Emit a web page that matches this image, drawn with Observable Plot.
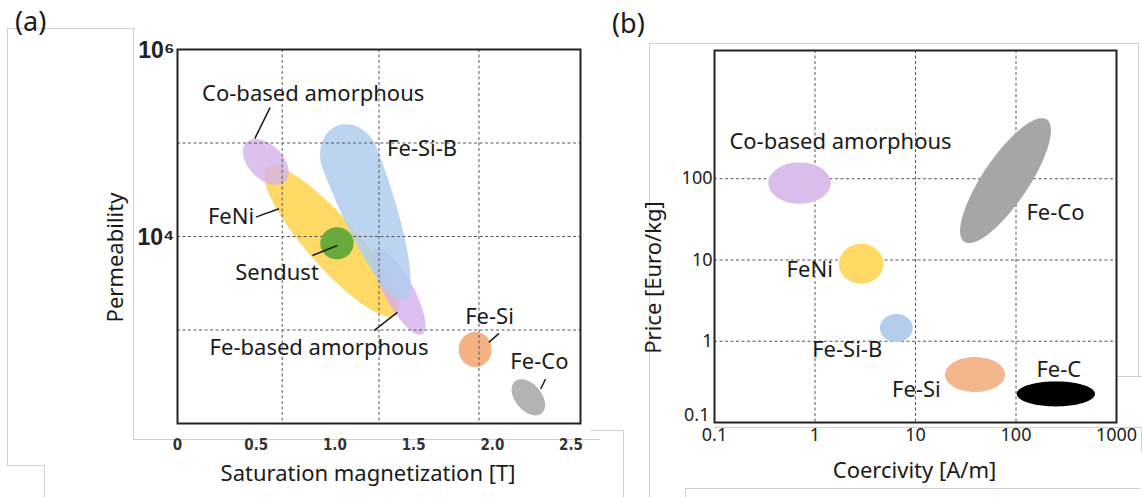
<!DOCTYPE html>
<html><head><meta charset="utf-8">
<script src="https://cdn.jsdelivr.net/npm/d3@7"></script>
<script src="https://cdn.jsdelivr.net/npm/@observablehq/plot@0.6"></script>
<style>
body{margin:0;background:#fff;}
#root{position:relative;width:1142px;height:497px;overflow:hidden;background:#fff;font-family:"Noto Sans",sans-serif;}
.panel{position:absolute;top:0;}
.deco{position:absolute;background:#d0d0d0;}
.tag{position:absolute;font-size:27px;color:#1a1a1a;line-height:1;font-family:"Noto Sans",sans-serif;}
</style></head><body><div id="root"></div>
<script>
// ---------- Panel (a): permeability vs saturation magnetization ----------
const aNames  = ["FeNi", "Co-based amorphous", "Fe-based amorphous", "Fe-Si-B", "Fe-Si", "Fe-Co", "Sendust"];
const aX1     = [0.570, 0.440, 1.265, 1.018, 1.894, 2.147, 0.910];
const aY1     = [5.35e4, 1.0e5, 7255, 1.51e5, 942, 279, 8354];
const aX2     = [1.392, 0.688, 1.557, 1.443, 1.894, 2.317, 1.122];
const aY2     = [1425, 3.84e4, 891, 2063, 397, 127, 8354];
const aWidth  = [0.255, 0.62, 0.30, 0.31, 0.94, 0.63, 0.96];
const aSplit  = [0.5, 0.5, 0.5, 0.19, 0.5, 0.5, 0.5];

const aLabelText = ["Co-based amorphous", "Fe-Si-B", "FeNi", "Sendust", "Fe-based amorphous", "Fe-Si", "Fe-Co"];
const aLabelX    = [0.862, 1.554, 0.340, 0.632, 0.899, 1.982, 2.299];
const aLabelY    = [3.32e5, 8.7e4, 1.61e4, 4045, 636, 1367, 450];

const aLeadX1 = [0.588, 0.497, 0.857, 1.248, 1.978, 2.307];
const aLeadY1 = [2.39e5, 1.61e4, 6260, 984, 737, 234];
const aLeadX2 = [0.491, 0.645, 1.016, 1.397, 2.042, 2.338];
const aLeadY2 = [1.113e5, 1.98e4, 8010, 1545, 920, 299];

const aXTicks = [0, 0.5, 1.0, 1.5, 2.0, 2.5];
const aXTickLabels = ["0", "0.5", "1.0", "1.5", "2.0", "2.5"];
const aYTicks = [1e4, 1e6];
const aYTickLabels = ["10\u2074", "10\u2076"];
const aGridX = [0.665, 1.28, 1.915];
const aGridY = [1e3, 1e4, 1e5];

// ---------- Panel (b): price vs coercivity ----------
const bNames  = ["Co-based amorphous", "Fe-Co", "FeNi", "Fe-Si-B", "Fe-Si", "Fe-C"];
const bX1     = [0.347, 30.9, 1.753, 4.485, 19.9, 102.8];
const bY1     = [87.1, 16.5, 8.85, 1.432, 0.384, 0.2216];
const bX2     = [1.45, 204.8, 4.85, 9.49, 78.6, 618];
const bY2     = [87.1, 528.7, 8.85, 1.432, 0.384, 0.2216];
const bWidth  = [0.663, 0.31, 0.90, 0.86, 0.583, 0.319];

const bLabelText = ["Co-based amorphous", "Fe-Co", "FeNi", "Fe-Si-B", "Fe-Si", "Fe-C"];
const bLabelX    = [1.794, 247, 0.886, 2.091, 10.19, 266.7];
const bLabelY    = [282.8, 38.3, 7.47, 0.775, 0.2546, 0.44];

const bXTicks = [0.1, 1, 10, 100, 1000];
const bXTickLabels = ["0.1", "1", "10", "100", "1000"];
const bYTicks = [1, 10, 100];
const bYTickLabels = ["1", "10", "100"];
const bYBottomTick = [0.1];
const bYBottomLabel = ["0.1"];
const bGrid = [1, 10, 100];

// ---------- styles ----------
const aFill = {"FeNi": "#ffd966", "Co-based amorphous": "#d3b1ea", "Fe-based amorphous": "#d3aef0",
  "Fe-Si-B": "#afcdec", "Fe-Si": "#f4b183", "Fe-Co": "#b3b3b3", "Sendust": "#6aa93c"};
const aAlpha = {"FeNi": 1, "Co-based amorphous": 0.8, "Fe-based amorphous": 0.8, "Fe-Si-B": 0.85,
  "Fe-Si": 1, "Fe-Co": 1, "Sendust": 1};
const bFill = {"Co-based amorphous": "#d9bdea", "Fe-Co": "#a6a6a6", "FeNi": "#ffd966",
  "Fe-Si-B": "#b3cdea", "Fe-Si": "#f4b68c", "Fe-C": "#000000"};

const labelFont = "'Noto Sans', 'Open Sans', sans-serif";
const ink = "#1a1a1a";

function rows(names, x1, y1, x2, y2, w, split, fill, alpha) {
  return names.map((n, i) => ({name: n, x1: x1[i], y1: y1[i], x2: x2[i], y2: y2[i],
    w: w[i], split: split ? split[i] : 0.5, fill: fill[n], alpha: alpha ? alpha[n] : 1}));
}

// custom mark: filled ovals positioned and sized through the plot's x/y scales
function regions(data) {
  return function (...args) {
    const scales = args.find(a => a && typeof a.x === "function" && typeof a.y === "function");
    const ns = "http://www.w3.org/2000/svg";
    const g = document.createElementNS(ns, "g");
    g.setAttribute("aria-label", "regions");
    for (const r of data) {
      const X1 = scales.x(r.x1), Y1 = scales.y(r.y1), X2 = scales.x(r.x2), Y2 = scales.y(r.y2);
      const L = Math.hypot(X1 - X2, Y1 - Y2);
      const ux = (X1 - X2) / L, uy = (Y1 - Y2) / L, vx = -uy, vy = ux;
      const b = r.w * L / 2, a1 = L * r.split, a2 = L * (1 - r.split);
      const cx = X1 - ux * a1, cy = Y1 - uy * a1;
      const pts = [];
      for (let i = 0; i < 120; i++) {
        const t = i / 120 * 2 * Math.PI, c = Math.cos(t), s = Math.sin(t);
        const a = c >= 0 ? a1 : a2;
        pts.push([cx + ux * a * c + vx * b * s, cy + uy * a * c + vy * b * s]);
      }
      const p = document.createElementNS(ns, "path");
      p.setAttribute("d", d3.line().curve(d3.curveCardinalClosed.tension(0.5))(pts));
      p.setAttribute("fill", r.fill);
      p.setAttribute("fill-opacity", r.alpha);
      g.appendChild(p);
    }
    return g;
  };
}

const gridStyle = {stroke: "#555", strokeWidth: 1, strokeDasharray: "3,2.5"};
const textOpts = {fontFamily: labelFont, fontSize: 22, fill: ink};

const aRows = rows(aNames, aX1, aY1, aX2, aY2, aWidth, aSplit, aFill, aAlpha);
const aBack = aRows.filter(r => r.name !== "Sendust");
const aFront = aRows.filter(r => r.name === "Sendust");
const aLeads = aLeadX1.map((v, i) => ({x1: v, y1: aLeadY1[i], x2: aLeadX2[i], y2: aLeadY2[i]}));

const plotA = Plot.plot({
  width: 600, height: 497,
  marginLeft: 177, marginRight: 20, marginTop: 49, marginBottom: 74,
  style: {background: "transparent", overflow: "visible", fontFamily: labelFont},
  x: {type: "linear", domain: [0, 2.56], axis: null},
  y: {type: "log", domain: [1e2, 1e6], axis: null},
  marks: [
    regions(aBack),
    Plot.ruleX(aGridX, gridStyle),
    Plot.ruleY(aGridY, gridStyle),
    regions(aFront),
    Plot.link(aLeads, {x1: "x1", y1: "y1", x2: "x2", y2: "y2", stroke: ink, strokeWidth: 1.5}),
    Plot.frame({stroke: "#222", strokeWidth: 2}),
    Plot.text(aLabelText, {x: (d, i) => aLabelX[i], y: (d, i) => aLabelY[i], text: d => d, ...textOpts}),
    Plot.text(aXTicks, {x: d => d, frameAnchor: "bottom", dy: 26, text: (d, i) => aXTickLabels[i],
      fontFamily: "'Liberation Sans Narrow', 'DejaVu Sans Condensed', 'Liberation Sans', sans-serif",
      fontWeight: "bold", fontSize: 15, fill: "#333"}),
    Plot.text(aYTicks, {y: d => d, frameAnchor: "left", textAnchor: "end", dx: -3, dy: 1,
      text: (d, i) => aYTickLabels[i], fontFamily: "'Liberation Sans', 'DejaVu Sans', sans-serif",
      fontWeight: "bold", fontSize: 23, fill: "#222"}),
    Plot.text(["Saturation magnetization [T]"], {frameAnchor: "bottom", textAnchor: "middle", dx: -11, dy: 57, text: d => d, ...textOpts}),
    Plot.text(["Permeability"], {frameAnchor: "left", textAnchor: "middle", dx: -62, dy: 21, rotate: -90, text: d => d, ...textOpts})
  ]
});

const bRows = rows(bNames, bX1, bY1, bX2, bY2, bWidth, null, bFill, null);
const bTickOpts = {fontFamily: labelFont, fontSize: 18, fill: "#222"};

const plotB = Plot.plot({
  width: 542, height: 497,
  marginLeft: 114, marginRight: 26, marginTop: 50, marginBottom: 75,
  style: {background: "transparent", overflow: "visible", fontFamily: labelFont},
  x: {type: "log", domain: [0.1, 1000], axis: null},
  y: {type: "log", domain: [0.1, Math.pow(10, 3.578)], axis: null},
  marks: [
    Plot.ruleX(bGrid, gridStyle),
    Plot.ruleY(bGrid, gridStyle),
    regions(bRows),
    Plot.frame({stroke: "#222", strokeWidth: 2}),
    Plot.text(bLabelText, {x: (d, i) => bLabelX[i], y: (d, i) => bLabelY[i], text: d => d, ...textOpts}),
    Plot.text(bXTicks, {x: d => d, frameAnchor: "bottom", dy: 18, text: (d, i) => bXTickLabels[i], ...bTickOpts}),
    Plot.text(bYTicks, {y: d => d, frameAnchor: "left", textAnchor: "end", dx: -2, dy: 0,
      text: (d, i) => bYTickLabels[i], ...bTickOpts}),
    Plot.text(bYBottomTick, {y: d => d, frameAnchor: "left", textAnchor: "end", dx: -5, dy: -7,
      text: (d, i) => bYBottomLabel[i], ...bTickOpts}),
    Plot.text(["Coercivity [A/m]"], {frameAnchor: "bottom", textAnchor: "middle", dx: -1, dy: 55, text: d => d, ...textOpts}),
    Plot.text(["Price [Euro/kg]"], {frameAnchor: "left", textAnchor: "middle", dx: -61, dy: 41, rotate: -90, text: d => d, ...textOpts})
  ]
});

const root = document.getElementById("root");
// faint screenshot border lines around the two panels
const deco = [
  [7, 28, 126, 1], [7, 28, 1, 437], [133, 28, 1, 411], [133, 439, 467, 1], [7, 465, 37, 1], [44, 465, 1, 32],
  [649, 43, 490, 1], [649, 43, 1, 454], [1138, 43, 1, 333], [1118, 376, 24, 1], [714, 427, 427, 1],
  [1141, 427, 1, 25], [685, 488, 455, 1], [685, 488, 1, 9], [590, 430, 33, 1], [623, 430, 1, 67]
];
for (const [l, t, w, h] of deco) {
  const d = document.createElement("div");
  d.className = "deco";
  Object.assign(d.style, {left: l + "px", top: t + "px", width: w + "px", height: h + "px"});
  root.appendChild(d);
}
const pa = document.createElement("div"); pa.className = "panel"; pa.style.left = "0px"; pa.appendChild(plotA); root.appendChild(pa);
const pb = document.createElement("div"); pb.className = "panel"; pb.style.left = "600px"; pb.appendChild(plotB); root.appendChild(pb);
for (const [txt, l, t] of [["(a)", 15, 7], ["(b)", 612, 9]]) {
  const d = document.createElement("div"); d.className = "tag"; d.textContent = txt;
  d.style.left = l + "px"; d.style.top = t + "px"; root.appendChild(d);
}
</script></body></html>
